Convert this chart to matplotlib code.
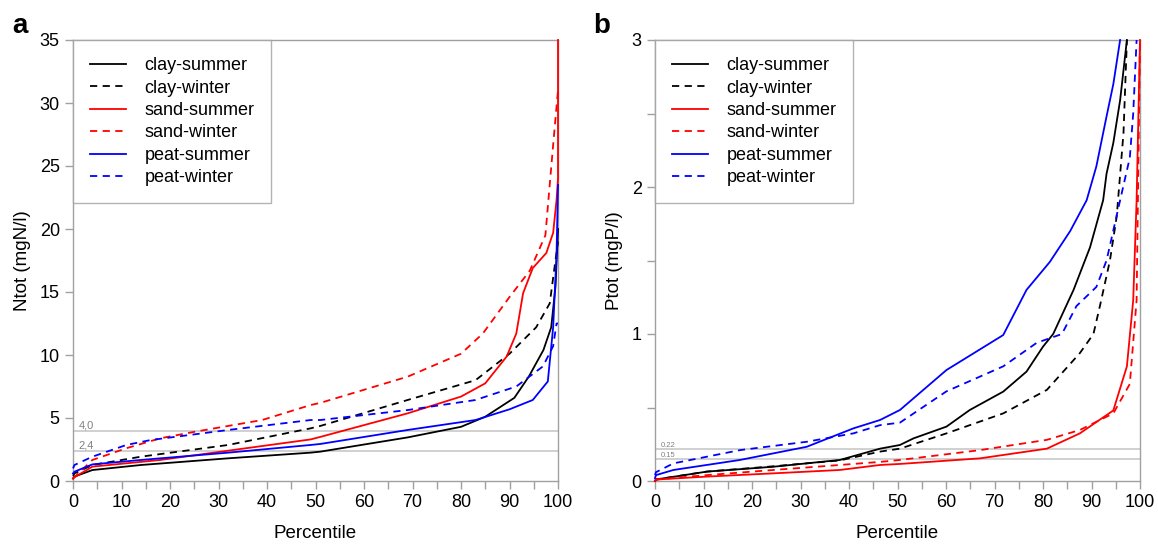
import matplotlib
matplotlib.use('Agg')
import matplotlib.pyplot as plt
import numpy as np

plt.rcParams['font.family'] = ['Liberation Sans', 'DejaVu Sans']

# Panel a: Ntot percentile curves (percentile, mgN/l)
n_clay_summer_x = [0, 0.3, 4, 14, 32, 49, 51, 69, 80, 85, 91, 94, 97, 98.6, 99.5, 100]
n_clay_summer_y = [0.2, 0.35, 0.87, 1.27, 1.8, 2.25, 2.33, 3.46, 4.3, 5.1, 6.6, 8.3, 10.4, 12.2, 15.5, 20]
n_clay_winter_x = [0, 0.3, 4, 14, 32, 49, 51, 69, 83, 90, 95.5, 98.3, 99.3, 100]
n_clay_winter_y = [0.4, 0.6, 1.27, 1.93, 2.86, 4.18, 4.37, 6.43, 8.0, 10.1, 12.2, 14.1, 17.0, 19.0]
n_sand_summer_x = [0, 0.3, 4, 18, 33, 49, 51, 69, 80, 85, 89.4, 91.4, 92.8, 94.8, 97.6, 99, 99.7, 100, 100]
n_sand_summer_y = [0.2, 0.3, 1.14, 1.67, 2.46, 3.3, 3.5, 5.37, 6.7, 7.75, 9.87, 11.7, 14.9, 16.9, 18.1, 19.7, 22.3, 24, 35]
n_sand_winter_x = [0, 0.3, 4, 11, 18, 25, 39, 49, 51, 69, 80, 84.5, 90, 94.2, 97.4, 98.4, 99.3, 100]
n_sand_winter_y = [0.2, 0.3, 1.67, 2.6, 3.39, 3.9, 4.84, 6.03, 6.2, 8.28, 10.1, 11.7, 14.6, 16.7, 19.5, 24, 28, 31]
n_peat_summer_x = [0, 0.3, 4, 14, 32, 49, 51, 69, 83, 90, 94.8, 97.9, 99, 99.7, 100]
n_peat_summer_y = [0.6, 0.74, 1.32, 1.67, 2.25, 2.86, 2.94, 4.05, 4.84, 5.69, 6.43, 7.9, 12.2, 18, 23.5]
n_peat_winter_x = [0, 0.3, 4, 11, 16, 32, 49, 51, 69, 83, 91.4, 96.9, 99, 99.7, 100]
n_peat_winter_y = [1.0, 1.27, 1.93, 2.86, 3.25, 4.05, 4.84, 4.84, 5.63, 6.43, 7.5, 9.1, 10.7, 12.5, 12.5]

# Panel b: Ptot percentile curves (percentile, mgP/l)
p_clay_summer_x = [0, 0.2, 10.7, 24.4, 38.1, 46.4, 50.5, 53.3, 60.1, 64.9, 71.8, 76.6, 80, 82.1, 86.3, 89.7, 92.4, 93.1, 94.5, 95.9, 97.3]
p_clay_summer_y = [0.0, 0.01, 0.064, 0.097, 0.143, 0.22, 0.245, 0.29, 0.37, 0.483, 0.608, 0.744, 0.914, 1.0, 1.3, 1.59, 1.91, 2.09, 2.3, 2.59, 3.0]
p_clay_winter_x = [0, 0.2, 10.7, 24.4, 38.1, 46.4, 50.5, 60.1, 71.8, 80.8, 87.6, 90.4, 91.8, 93.8, 95.2, 96.6, 97.3]
p_clay_winter_y = [0.0, 0.01, 0.064, 0.1, 0.14, 0.2, 0.22, 0.324, 0.46, 0.62, 0.87, 1.0, 1.2, 1.5, 1.8, 2.37, 3.0]
p_sand_summer_x = [0, 0.2, 10.7, 24.4, 38.1, 46.4, 50.5, 67, 80.8, 87.6, 94.5, 97.3, 98.6, 99.3, 100]
p_sand_summer_y = [0.0, 0.01, 0.03, 0.052, 0.075, 0.109, 0.116, 0.154, 0.22, 0.324, 0.48, 0.78, 1.23, 1.91, 3.0]
p_sand_winter_x = [0, 0.2, 10.7, 24.4, 38.1, 46.4, 50.5, 67, 80.8, 87.6, 94.5, 97.9, 99.3, 100]
p_sand_winter_y = [0.0, 0.01, 0.04, 0.075, 0.109, 0.13, 0.143, 0.21, 0.28, 0.347, 0.46, 0.66, 1.23, 3.0]
p_peat_summer_x = [0, 0.2, 3.8, 17.5, 31.3, 40.9, 46.4, 50.5, 60.1, 71.8, 76.6, 81.4, 85.6, 89, 91, 93.1, 94.5, 95.9]
p_peat_summer_y = [0.02, 0.04, 0.075, 0.143, 0.233, 0.358, 0.415, 0.483, 0.755, 0.993, 1.3, 1.49, 1.7, 1.91, 2.14, 2.48, 2.7, 3.0]
p_peat_winter_x = [0, 0.2, 3.8, 17.5, 31.3, 40.9, 46.4, 50.5, 60.1, 71.8, 78.7, 83.9, 86.9, 91, 93.1, 95.9, 97.9, 98.6, 99.3]
p_peat_winter_y = [0.04, 0.06, 0.12, 0.21, 0.267, 0.324, 0.38, 0.397, 0.61, 0.78, 0.94, 1.0, 1.19, 1.32, 1.5, 1.91, 2.2, 2.5, 3.0]

labels = ['clay-summer', 'clay-winter', 'sand-summer', 'sand-winter', 'peat-summer', 'peat-winter']
colors = ['black', 'black', 'red', 'red', 'blue', 'blue']
styles = ['-', (0, (4, 3)), '-', (0, (4, 3)), '-', (0, (4, 3))]

n_series = [(n_clay_summer_x, n_clay_summer_y), (n_clay_winter_x, n_clay_winter_y),
            (n_sand_summer_x, n_sand_summer_y), (n_sand_winter_x, n_sand_winter_y),
            (n_peat_summer_x, n_peat_summer_y), (n_peat_winter_x, n_peat_winter_y)]
p_series = [(p_clay_summer_x, p_clay_summer_y), (p_clay_winter_x, p_clay_winter_y),
            (p_sand_summer_x, p_sand_summer_y), (p_sand_winter_x, p_sand_winter_y),
            (p_peat_summer_x, p_peat_summer_y), (p_peat_winter_x, p_peat_winter_y)]

n_limits = [4.0, 2.4]
n_limit_text = ['4,0', '2,4']
p_limits = [0.22, 0.15]
p_limit_text = ['0.22', '0.15']

fig = plt.figure(figsize=(11.58, 5.44), dpi=100)
ax_a = fig.add_axes([73 / 1158, 63 / 544, 485 / 1158, 441 / 544])
ax_b = fig.add_axes([655 / 1158, 63 / 544, 485 / 1158, 441 / 544])

spine_col = '#a0a0a0'


def setup(ax, series, limits, limit_text, ymax, yticks, ylabels, ylabel, txt_size):
    for y in limits:
        ax.axhline(y, color='#c8c8c8', lw=1.2, zorder=1)
    for y, t in zip(limits, limit_text):
        ax.text(1.2, y, t, color='#808080', fontsize=txt_size, va='bottom', ha='left')
    for (x, y), lab, c, ls in zip(series, labels, colors, styles):
        ax.plot(x, y, color=c, ls=ls, lw=1.3, label=lab, zorder=3, clip_on=False)
    ax.set_xlim(0, 100)
    ax.set_ylim(0, ymax)
    ax.set_xticks(np.arange(0, 101, 5))
    ax.set_xticklabels([str(v) if v % 10 == 0 else '' for v in range(0, 101, 5)])
    ax.set_yticks(yticks)
    ax.set_yticklabels(ylabels)
    for s in ax.spines.values():
        s.set_color(spine_col)
        s.set_linewidth(1.0)
    ax.tick_params(axis='both', colors=spine_col, labelcolor='black', labelsize=13,
                   length=6, width=1.0, direction='out')
    ax.set_xlabel('Percentile', fontsize=13.5, labelpad=10)
    ax.set_ylabel(ylabel, fontsize=13.5, labelpad=6)
    leg = ax.legend(loc='upper left', bbox_to_anchor=(0, 1), fontsize=13, frameon=True,
                    fancybox=False, borderaxespad=0, handlelength=2.0, handletextpad=1.0,
                    labelspacing=0.3, borderpad=0.95)
    leg.get_frame().set_edgecolor(spine_col)
    leg.get_frame().set_linewidth(1.0)


setup(ax_a, n_series, n_limits, n_limit_text, 35, np.arange(0, 36, 5),
      [str(v) for v in range(0, 36, 5)], 'Ntot (mgN/l)', 8)
setup(ax_b, p_series, p_limits, p_limit_text, 3, np.arange(0, 3.01, 0.5),
      ['0', '', '1', '', '2', '', '3'], 'Ptot (mgP/l)', 5.5)

fig.text(12 / 1158, 1 - 33 / 544, 'a', fontsize=20, fontweight='bold')
fig.text(593 / 1158, 1 - 33 / 544, 'b', fontsize=20, fontweight='bold')

fig.savefig('out.png', dpi=100)
